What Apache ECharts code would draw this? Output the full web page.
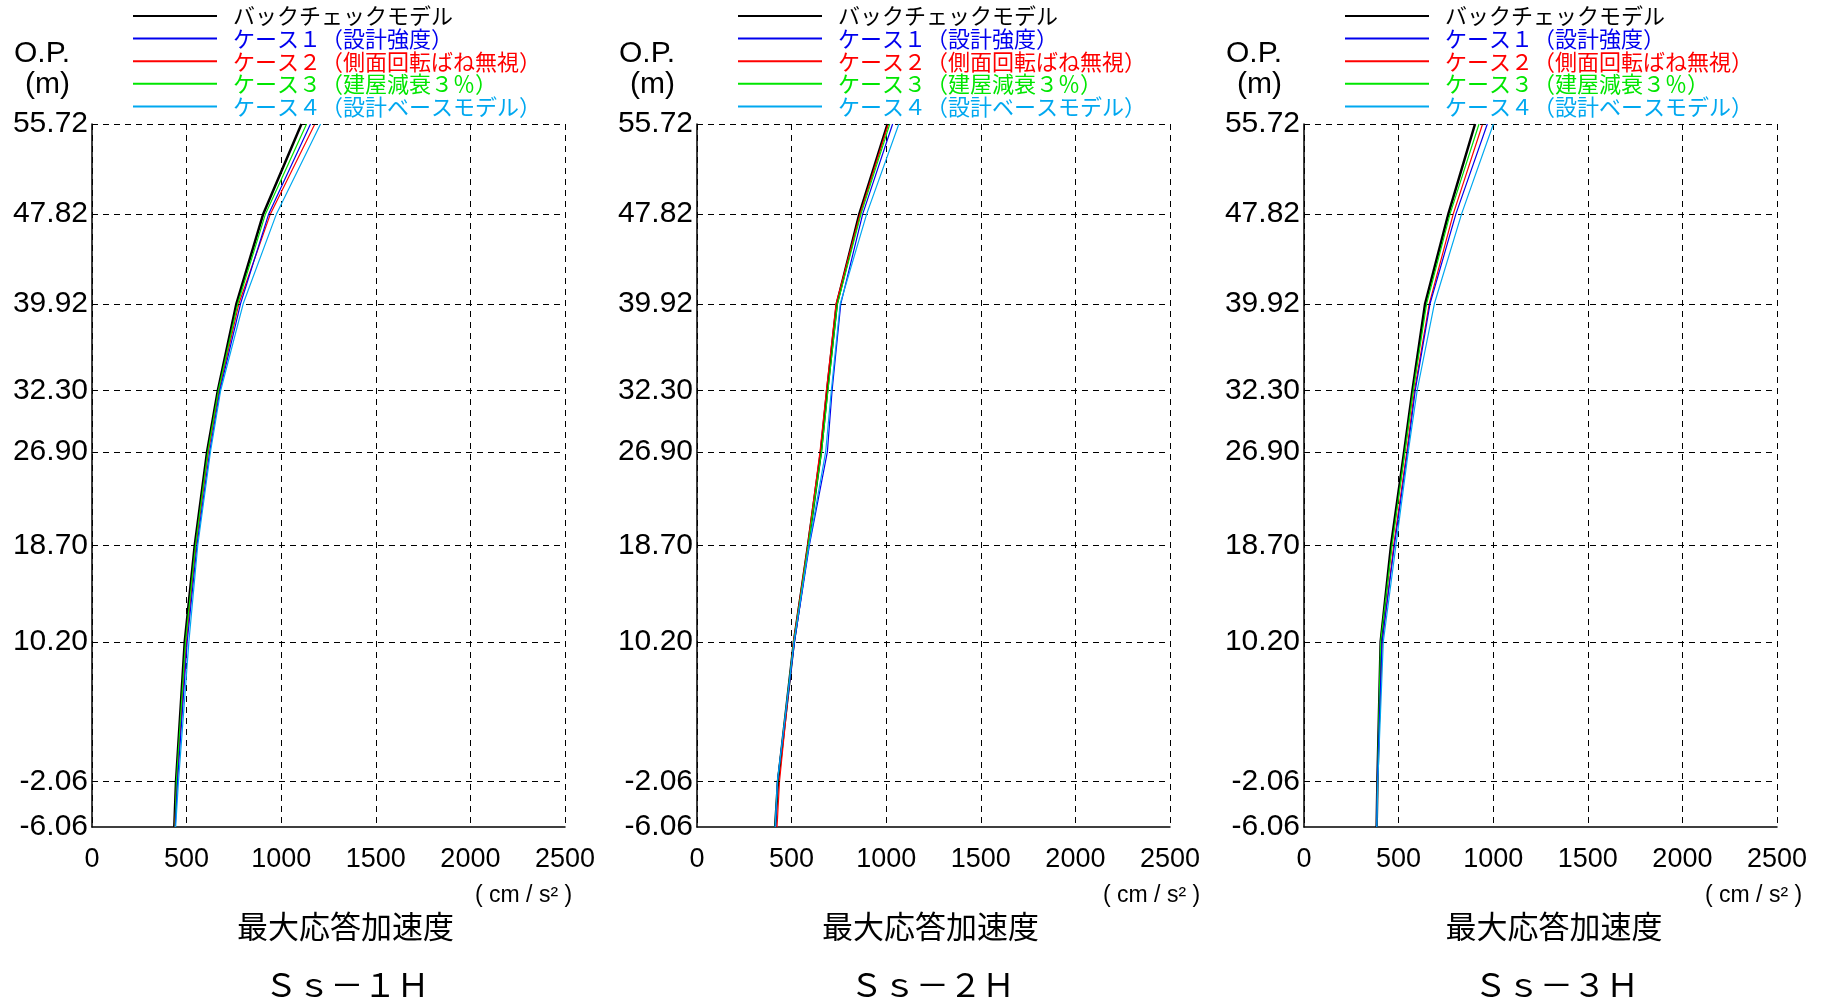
<!DOCTYPE html>
<html><head><meta charset="utf-8">
<script src="https://cdn.jsdelivr.net/npm/echarts@6/dist/echarts.min.js"></script>
<style>html,body{margin:0;padding:0;background:#fff}#c{width:1822px;height:1000px}</style>
</head><body><div id="c"></div>
<script>
// ---- data ----
const levels = [-6.06, -2.06, 10.20, 18.70, 26.90, 32.30, 39.92, 47.82, 55.72];
const xTicks = [0, 500, 1000, 1500, 2000, 2500];
const seriesNames = ['バックチェックモデル', 'ケース１（設計強度）', 'ケース２（側面回転ばね無視）', 'ケース３（建屋減衰３％）', 'ケース４（設計ベースモデル）'];
const seriesColors = ['#000000', '#0000ee', '#ff0000', '#00e600', '#00a8f0'];
const chartTitles = ['Ｓｓ－１Ｈ', 'Ｓｓ－２Ｈ', 'Ｓｓ－３Ｈ'];
const axisTitle = '最大応答加速度';
const unitText = '( cm / s² )';

// Ss-1H
const ss1Back  = [435, 444, 490, 543, 608, 665, 763, 905, 1107];
const ss1Case1 = [440, 452, 503, 555, 622, 676, 785, 934, 1155];
const ss1Case2 = [437, 449, 499, 550, 615, 672, 776, 943, 1178];
const ss1Case3 = [439, 446, 494, 547, 612, 668, 770, 917, 1134];
const ss1Case4 = [442, 457, 512, 559, 626, 680, 799, 975, 1208];
// Ss-2H
const ss2Back  = [413, 428, 512, 587, 655, 688, 739, 858, 1007];
const ss2Case1 = [415, 425, 515, 594, 689, 714, 760, 876, 1034];
const ss2Case2 = [423, 436, 510, 585, 650, 684, 735, 862, 1011];
const ss2Case3 = [414, 426, 512, 588, 658, 692, 742, 867, 1019];
const ss2Case4 = [413, 425, 513, 592, 680, 710, 757, 897, 1067];
// Ss-3H
const ss3Back  = [384, 388, 405, 460, 529, 573, 640, 763, 904];
const ss3Case1 = [384, 388, 412, 478, 547, 588, 666, 803, 969];
const ss3Case2 = [384, 388, 414, 474, 543, 584, 662, 789, 944];
const ss3Case3 = [384, 388, 405, 465, 533, 577, 648, 772, 925];
const ss3Case4 = [385, 390, 419, 486, 551, 598, 689, 833, 1001];

const chartData = [
  [ss1Back, ss1Case1, ss1Case2, ss1Case3, ss1Case4],
  [ss2Back, ss2Case1, ss2Case2, ss2Case3, ss2Case4],
  [ss3Back, ss3Case1, ss3Case2, ss3Case3, ss3Case4]
];

// ---- layout ----
const layout = [
  {left: 92,   unitX: 475,  titleX: 345.5, ssX: 347},
  {left: 697,  unitX: 1103, titleX: 930.5, ssX: 932.5},
  {left: 1304, unitX: 1705, titleX: 1554,  ssX: 1556.5}
];
const gridTop = 124, gridH = 703, gridW = 473;
const NUM_FONT = '"Liberation Sans", Arial, sans-serif';
const JP_FONT = '"Noto Sans CJK JP", sans-serif';
const drawOrder = [0, 2, 3, 1, 4];

const grids = [], xAxes = [], yAxes = [], series = [], legends = [], graphics = [];
layout.forEach((L, ci) => {
  grids.push({left: L.left, top: gridTop, width: gridW, height: gridH, containLabel: false});
  xAxes.push({
    gridIndex: ci, type: 'value', min: xTicks[0], max: xTicks[xTicks.length - 1], interval: 500,
    axisLine: {show: true, onZero: false, lineStyle: {color: '#000', width: 1.5}},
    axisTick: {show: false},
    axisLabel: {color: '#000', fontSize: 27, fontFamily: NUM_FONT, margin: 19, formatter: v => String(v)},
    splitLine: {show: true, lineStyle: {color: '#000', type: [6, 5], width: 1}}
  });
  yAxes.push({
    gridIndex: ci, type: 'value', min: levels[0], max: levels[levels.length - 1],
    axisLine: {show: true, onZero: false, lineStyle: {color: '#000', width: 1.5}},
    axisTick: {show: false},
    splitLine: {show: false},
    axisLabel: {customValues: levels, formatter: v => Number(v).toFixed(2), color: '#000', fontSize: 30, fontFamily: NUM_FONT, margin: 4}
  });
  drawOrder.forEach((si, k) => {
    const vals = chartData[ci][si];
    const s = {
      type: 'line', name: seriesNames[si], xAxisIndex: ci, yAxisIndex: ci,
      data: vals.map((v, i) => [v, levels[i]]),
      showSymbol: false, symbol: 'none', animation: false, silent: true,
      lineStyle: {color: seriesColors[si], width: si === 0 ? 2.5 : 1.2},
      itemStyle: {color: seriesColors[si]},
      z: 3 + k
    };
    if (k === 0) {
      s.markLine = {
        silent: true, symbol: 'none', animation: false, label: {show: false},
        lineStyle: {color: '#000', type: [6, 5], width: 1},
        data: levels.slice(1).map(v => ({yAxis: v}))
      };
    }
    series.push(s);
  });
  legends.push({
    orient: 'vertical', left: L.left + 40, top: 5, padding: 0,
    itemWidth: 84, itemHeight: 14, itemGap: 0.6,
    selectedMode: false,
    itemStyle: {opacity: 0},
    textStyle: {fontFamily: JP_FONT, fontSize: 22, lineHeight: 22, padding: [0, 0, 0, 11]},
    data: seriesNames.map((n, i) => ({name: n, itemStyle: {opacity: 0}, textStyle: {color: seriesColors[i]}}))
  });
  graphics.push(
    {type: 'text', x: L.left - 78, y: 54, style: {text: 'O.P.', font: '30px ' + NUM_FONT, fill: '#000', textAlign: 'left', textVerticalAlign: 'middle'}},
    {type: 'text', x: L.left - 67, y: 85, style: {text: '(m)', font: '30px ' + NUM_FONT, fill: '#000', textAlign: 'left', textVerticalAlign: 'middle'}},
    {type: 'text', x: L.unitX, y: 896, style: {text: unitText, font: '23px ' + NUM_FONT, fill: '#000', textAlign: 'left', textVerticalAlign: 'middle'}},
    {type: 'text', x: L.titleX, y: 926, style: {text: axisTitle, font: '31px ' + JP_FONT, fill: '#000', textAlign: 'center', textVerticalAlign: 'middle'}},
    {type: 'text', x: L.ssX, y: 984, style: {text: chartTitles[ci], font: '33px ' + JP_FONT, fill: '#000', textAlign: 'center', textVerticalAlign: 'middle'}}
  );
});

const chart = echarts.init(document.getElementById('c'), null, {renderer: 'canvas'});
chart.setOption({
  backgroundColor: '#fff',
  animation: false,
  grid: grids, xAxis: xAxes, yAxis: yAxes, series: series, legend: legends, graphic: graphics
});
</script></body></html>
